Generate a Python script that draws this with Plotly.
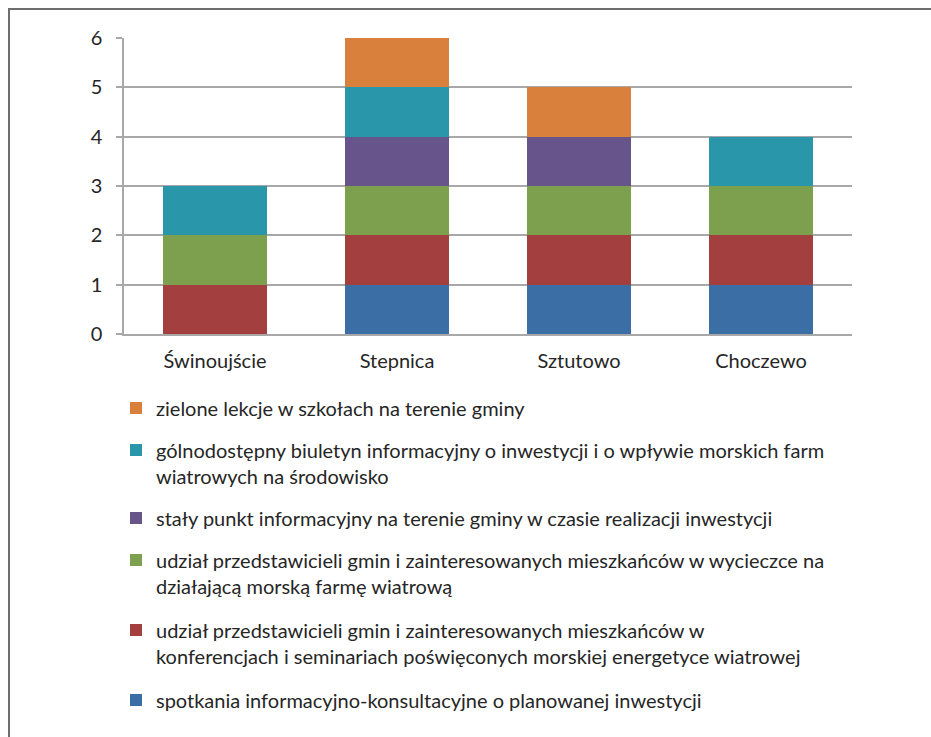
import plotly.graph_objects as go

categories = ["Świnoujście", "Stepnica", "Sztutowo", "Choczewo"]

series_names = [
    "spotkania informacyjno-konsultacyjne o planowanej inwestycji",
    "udział przedstawicieli gmin i zainteresowanych mieszkańców w<br>konferencjach i seminariach poświęconych morskiej energetyce wiatrowej",
    "udział przedstawicieli gmin i zainteresowanych mieszkańców w wycieczce na<br>działającą morską farmę wiatrową",
    "stały punkt informacyjny na terenie gminy w czasie realizacji inwestycji",
    "gólnodostępny biuletyn informacyjny o inwestycji i o wpływie morskich farm<br>wiatrowych na środowisko",
    "zielone lekcje w szkołach na terenie gminy",
]

spotkania = [0, 1, 1, 1]
konferencje = [1, 1, 1, 1]
wycieczka = [1, 1, 1, 1]
punkt = [0, 1, 1, 0]
biuletyn = [1, 1, 0, 1]
lekcje = [0, 1, 1, 0]

series_values = [spotkania, konferencje, wycieczka, punkt, biuletyn, lekcje]
colors = ["#3a6ea5", "#a33f3f", "#7da04f", "#67548b", "#2a96aa", "#d8803c"]

y_ticks = [0, 1, 2, 3, 4, 5, 6]

FONT = "Lato, 'Open Sans', sans-serif"
FS = 20
TXT = "#262626"
GRID = "#a8a8a8"

W, H = 931, 737
L, R, T, B = 124, 79, 38, 403


def px_x(px):
    return (px - L) / (W - L - R)


def px_y(py):
    return (H - B - py) / (H - T - B)


# first-line centre (px) of each legend entry, listed per series
legend_line_y = [700, 630, 560, 518, 450, 408]

fig = go.Figure()
legend_layouts = {}
for i, (name, vals, col) in enumerate(zip(series_names, series_values, colors)):
    key = "legend" if i == 0 else f"legend{i + 1}"
    fig.add_trace(go.Bar(
        x=categories,
        y=[v if v else None for v in vals],
        name=name,
        marker=dict(color=col, line=dict(width=0)),
        legend=key,
        width=0.57,
    ))
    top = legend_line_y[i] - 19.5
    legend_layouts[key] = dict(
        xref="paper", yref="paper",
        x=px_x(116), y=px_y(top),
        xanchor="left", yanchor="top",
        valign="top",
        font=dict(family=FONT, size=FS, color=TXT),
        bgcolor="rgba(0,0,0,0)",
        borderwidth=0,
    )

fig.update_layout(
    width=W, height=H,
    barmode="stack",
    paper_bgcolor="white",
    plot_bgcolor="white",
    margin=dict(l=L, r=R, t=T, b=B, pad=0),
    font=dict(family=FONT, size=FS, color=TXT),
    showlegend=True,
    xaxis=dict(
        showgrid=False,
        showline=True, linecolor=GRID, linewidth=1.5,
        ticks="",
        tickfont=dict(family=FONT, size=FS, color=TXT),
        ticklabelstandoff=8,
        tickangle=0,
    ),
    yaxis=dict(
        range=[0, 6],
        tickvals=y_ticks,
        showgrid=True, gridcolor=GRID, gridwidth=1.5,
        showline=True, linecolor=GRID, linewidth=1.5,
        ticks="outside", ticklen=6, tickcolor=GRID, tickwidth=1.5,
        tickfont=dict(family=FONT, size=FS, color=TXT),
        ticklabelstandoff=10,
        zeroline=False,
    ),
    **legend_layouts,
)

# outer frame of the chart
fig.add_shape(
    type="rect", xref="paper", yref="paper",
    x0=px_x(9), x1=px_x(W + 10), y0=px_y(H + 10), y1=px_y(9),
    line=dict(color="#6e6e6e", width=2), fillcolor="rgba(0,0,0,0)",
    layer="above",
)

fig.write_html("out.html")
